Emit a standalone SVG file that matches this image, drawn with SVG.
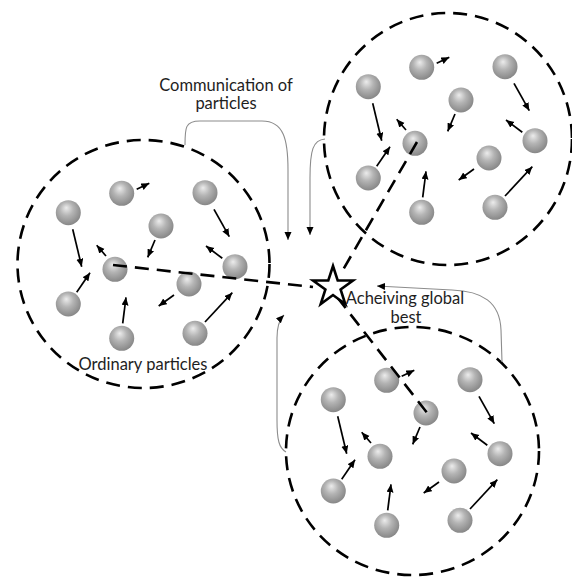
<svg xmlns="http://www.w3.org/2000/svg" width="572" height="579" viewBox="0 0 572 579">
<style>
.ring{fill:none;stroke:#000;stroke-width:2.6;stroke-dasharray:14 8}
.best{fill:none;stroke:#000;stroke-width:2.6;stroke-dasharray:14 8}
.mv{stroke:#000;stroke-width:1.7;fill:none;marker-end:url(#ah)}
.comm{fill:none;stroke:#8c8c8c;stroke-width:1.1;marker-end:url(#ahg)}
.lbl{font-family:Lato,"Liberation Sans",sans-serif;font-size:16.5px;fill:#1e1e1e;text-anchor:middle}
.p{fill:url(#sph)}
</style>
<defs>
<radialGradient id="sph" cx="0.45" cy="0.42" r="0.6" fx="0.42" fy="0.3">
<stop offset="0" stop-color="#ececec"/>
<stop offset="0.45" stop-color="#b4b4b4"/>
<stop offset="1" stop-color="#858585"/>
</radialGradient>
<marker id="ah" markerUnits="userSpaceOnUse" markerWidth="9" markerHeight="8" refX="8" refY="3.5" orient="auto">
<path d="M0,0 L8,3.5 L0,7 z" fill="#000"/>
</marker>
<marker id="ahg" markerUnits="userSpaceOnUse" markerWidth="9" markerHeight="8" refX="8" refY="3.5" orient="auto">
<path d="M0,0 L8,3.5 L0,7 z" fill="#000"/>
</marker>
<g id="swarm">
<circle class="p" cx="121.7" cy="193.3" r="12.5"/>
<circle class="p" cx="205" cy="192.7" r="12.5"/>
<circle class="p" cx="68.3" cy="212.7" r="12.5"/>
<circle class="p" cx="161" cy="226" r="12.5"/>
<circle class="p" cx="115" cy="269.3" r="12.5"/>
<circle class="p" cx="235" cy="266.7" r="12.5"/>
<circle class="p" cx="189" cy="284" r="12.5"/>
<circle class="p" cx="68.3" cy="304" r="12.5"/>
<circle class="p" cx="121.7" cy="338.3" r="12.5"/>
<circle class="p" cx="195" cy="333.3" r="12.5"/>
<line class="mv" x1="136.7" y1="189.3" x2="149.3" y2="183.3"/>
<line class="mv" x1="214" y1="209.3" x2="229.3" y2="236.7"/>
<line class="mv" x1="72.7" y1="229.3" x2="81.7" y2="266.7"/>
<line class="mv" x1="155" y1="240" x2="147.7" y2="257.3"/>
<line class="mv" x1="106" y1="256" x2="96.7" y2="245.3"/>
<line class="mv" x1="222.3" y1="258.3" x2="206" y2="246"/>
<line class="mv" x1="76.7" y1="292.3" x2="90" y2="272.7"/>
<line class="mv" x1="174" y1="295" x2="158.7" y2="306"/>
<line class="mv" x1="122.7" y1="323.3" x2="126" y2="297.3"/>
<line class="mv" x1="205" y1="322" x2="232.3" y2="292.7"/>
</g>
</defs>

<g id="cluster-left">
<ellipse class="ring" cx="143.5" cy="264" rx="126" ry="124"/>
<use href="#swarm"/>
</g>
<g id="cluster-top">
<ellipse class="ring" cx="448" cy="139" rx="124" ry="126"/>
<use href="#swarm" transform="translate(300,-126)"/>
</g>
<g id="cluster-bottom">
<ellipse class="ring" cx="412.5" cy="451" rx="126.5" ry="124"/>
<use href="#swarm" transform="translate(265,187)"/>
</g>

<g id="connectors">
<path class="best" d="M113,265 L313,287"/>
<path class="best" d="M417,142 L340,275"/>
<path class="best" d="M337,297 L428,414"/>
<path class="comm" d="M185,145 C185,128 185,121 200,121 L262,121 C284,121 288,140 288,170 L288,240"/>
<path class="comm" d="M325,139 C313,140 310,150 310,178 L310,235"/>
<path class="comm" d="M286,452 C279,448 277,440 277,420 L277,338 C277,326 279,320 284,315"/>
<path class="comm" d="M502,362 L501,330 C500,302 482,291 452,290 L377,286"/>
</g>

<g id="global-best">
<polygon points="333,266 337.7,280.5 353,280.5 340.6,289.5 345.3,304 333,295 320.7,304 325.4,289.5 313,280.5 328.3,280.5" fill="#fff" stroke="#000" stroke-width="2.6" stroke-linejoin="miter"/>
</g>

<g id="labels">
<text class="lbl" x="226" y="91">Communication of</text>
<text class="lbl" x="226" y="109">particles</text>
<text class="lbl" x="143" y="370">Ordinary particles</text>
<text class="lbl" x="405" y="304">Acheiving global</text>
<text class="lbl" x="406" y="323">best</text>
</g>
</svg>
